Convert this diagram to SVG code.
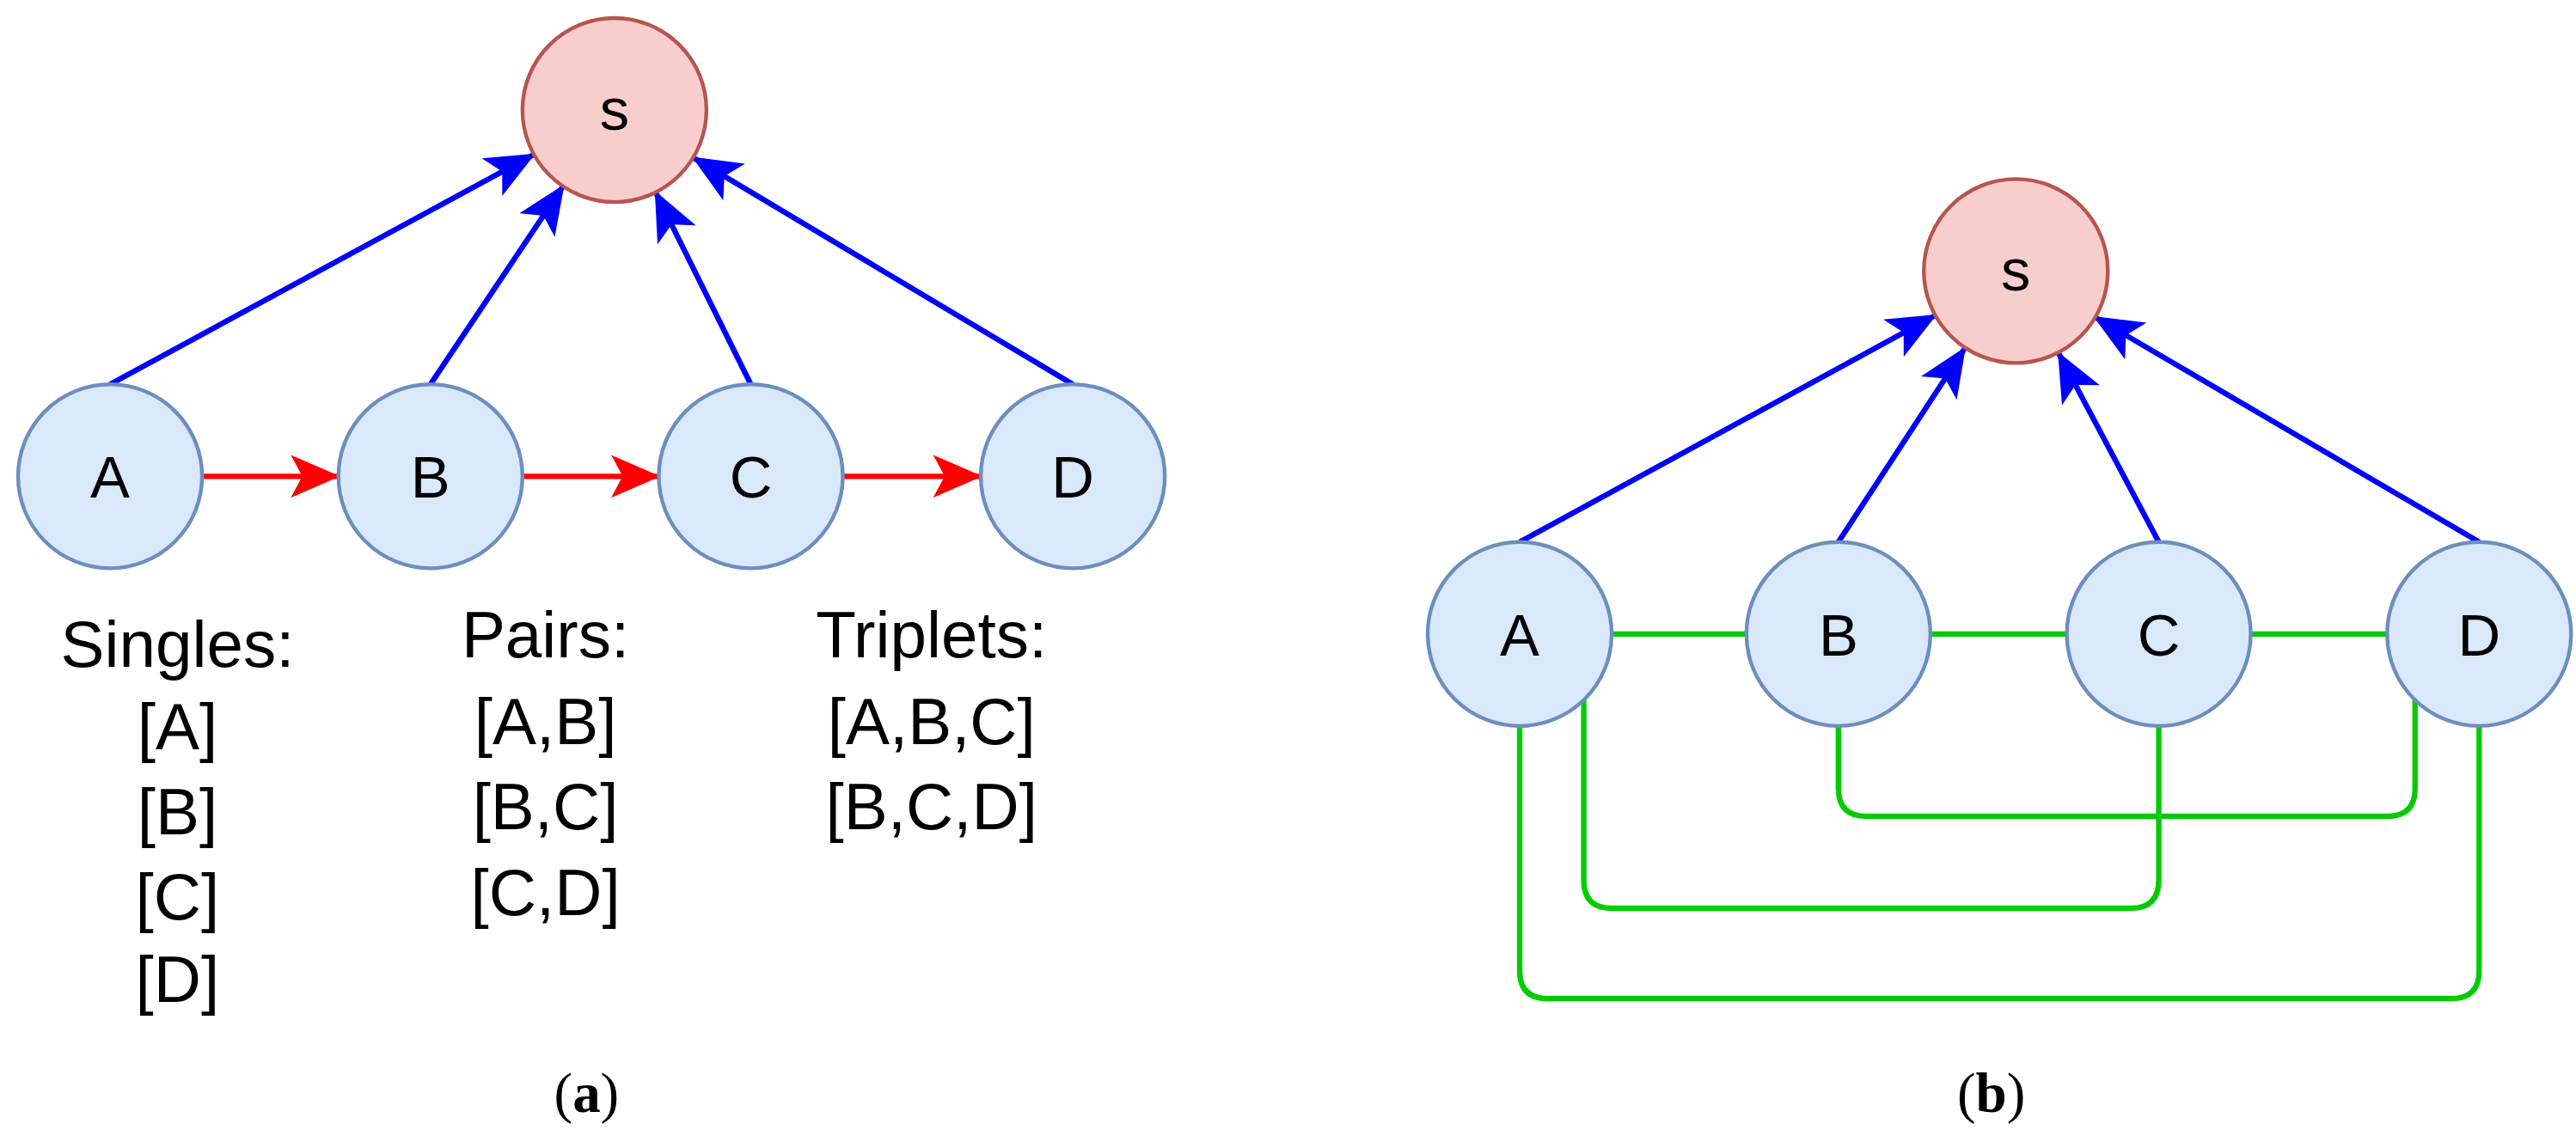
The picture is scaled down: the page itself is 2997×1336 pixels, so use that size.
<svg xmlns="http://www.w3.org/2000/svg" width="2997" height="1336" viewBox="0 0 2997 1336">
<style>
.n{fill:#dae8fc;stroke:#6c8ebf;stroke-width:2.3}
.s{fill:#f8cecc;stroke:#b85450;stroke-width:2.3}
.t{font-family:"Liberation Sans",Arial,sans-serif;font-size:36px;text-anchor:middle;fill:#000}
.l{font-family:"Liberation Sans",Arial,sans-serif;font-size:40px;text-anchor:middle;fill:#000}
.cap{font-family:"Liberation Serif","Times New Roman",serif;font-size:34px;text-anchor:middle;fill:#000}
.b{stroke:#0000ff;stroke-width:3.3;fill:none;marker-end:url(#ab)}
.r{stroke:#ff0000;stroke-width:3.3;fill:none;marker-end:url(#ar)}
.g{stroke:#00cc00;stroke-width:3.3;fill:none}
</style>
<defs>
<marker id="ab" markerUnits="userSpaceOnUse" markerWidth="34" markerHeight="30" refX="29" refY="13" orient="auto"><path d="M0,0 L30,13 L0,26 L7,13 Z" fill="#0000ff"/></marker>
<marker id="ar" markerUnits="userSpaceOnUse" markerWidth="34" markerHeight="30" refX="29" refY="13" orient="auto"><path d="M0,0 L30,13 L0,26 L7,13 Z" fill="#ff0000"/></marker>
</defs>
<rect width="2997" height="1336" fill="#fff"/>
<g transform="scale(1.9114)">
<g id="connectors">
<path class="b" d="M67,234 L325,94"/>
<path class="b" d="M262,234 L343,113"/>
<path class="b" d="M457,234 L399,117"/>
<path class="b" d="M653,234 L422,96"/>
<path class="r" d="M123,290 L206,290"/>
<path class="r" d="M318,290 L401,290"/>
<path class="r" d="M513,290 L597,290"/>
<path class="b" d="M925,330 L1178,192"/>
<path class="b" d="M1119,330 L1196,212"/>
<path class="b" d="M1314,330 L1253,215"/>
<path class="b" d="M1509,330 L1275,193"/>
<path class="g" d="M981,386 L1063,386 M1175,386 L1258,386 M1370,386 L1453,386"/>
<path class="g" d="M1119,442 L1119,480 Q1119,497 1136,497 L1453,497 Q1470,497 1470,480 L1470,426"/>
<path class="g" d="M964,426 L964,536 Q964,553 981,553 L1297,553 Q1314,553 1314,536 L1314,442"/>
<path class="g" d="M925,442 L925,591 Q925,608 942,608 L1492,608 Q1509,608 1509,591 L1509,442"/>
</g>
<g id="a-s"><circle class="s" cx="374" cy="67" r="56"/><text class="t" x="374" y="79">s</text></g>
<g id="a-A"><circle class="n" cx="67" cy="290" r="56"/><text class="t" x="67" y="303">A</text></g>
<g id="a-B"><circle class="n" cx="262" cy="290" r="56"/><text class="t" x="262" y="303">B</text></g>
<g id="a-C"><circle class="n" cx="457" cy="290" r="56"/><text class="t" x="457" y="303">C</text></g>
<g id="a-D"><circle class="n" cx="653" cy="290" r="56"/><text class="t" x="653" y="303">D</text></g>
<g id="labels">
<text class="l" x="108" y="406">Singles:</text>
<text class="l" x="108" y="456">[A]</text>
<text class="l" x="108" y="508">[B]</text>
<text class="l" x="108" y="560">[C]</text>
<text class="l" x="108" y="610">[D]</text>
<text class="l" x="332" y="400">Pairs:</text>
<text class="l" x="332" y="453">[A,B]</text>
<text class="l" x="332" y="505">[B,C]</text>
<text class="l" x="332" y="557">[C,D]</text>
<text class="l" x="567" y="400">Triplets:</text>
<text class="l" x="567" y="453">[A,B,C]</text>
<text class="l" x="567" y="505">[B,C,D]</text>
<text class="cap" x="357" y="677">(<tspan font-weight="bold">a</tspan>)</text>
<text class="cap" x="1212" y="677">(<tspan font-weight="bold">b</tspan>)</text>
</g>
<g id="b-s"><circle class="s" cx="1227" cy="165" r="56"/><text class="t" x="1227" y="177">s</text></g>
<g id="b-A"><circle class="n" cx="925" cy="386" r="56"/><text class="t" x="925" y="399">A</text></g>
<g id="b-B"><circle class="n" cx="1119" cy="386" r="56"/><text class="t" x="1119" y="399">B</text></g>
<g id="b-C"><circle class="n" cx="1314" cy="386" r="56"/><text class="t" x="1314" y="399">C</text></g>
<g id="b-D"><circle class="n" cx="1509" cy="386" r="56"/><text class="t" x="1509" y="399">D</text></g>
</g>
</svg>
